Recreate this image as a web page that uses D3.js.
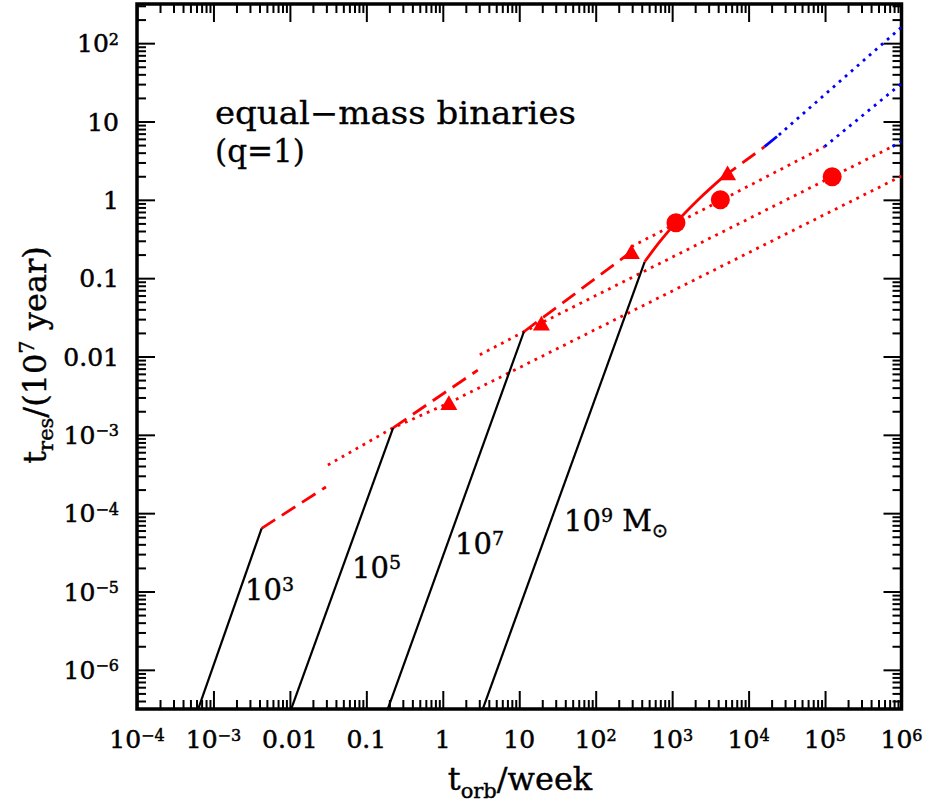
<!DOCTYPE html>
<html>
<head>
<meta charset="utf-8">
<script src="https://cdn.jsdelivr.net/npm/d3@7/dist/d3.min.js"></script>
<style>
html,body{margin:0;padding:0;background:#fff;}
svg{display:block;}
</style>
</head>
<body>
<svg id="chart" width="927" height="804"></svg>
<script>
// ---------------- data ----------------
const xTickValues = [1e-4, 1e-3, 1e-2, 1e-1, 1, 10, 1e2, 1e3, 1e4, 1e5, 1e6];
const xTickLabels = [["10","−4"],["10","−3"],["0.01",""],["0.1",""],["1",""],["10",""],["10","2"],["10","3"],["10","4"],["10","5"],["10","6"]];
const yTickValues = [1e-6, 1e-5, 1e-4, 1e-3, 1e-2, 1e-1, 1, 10, 1e2];
const yTickLabels = [["10","−6"],["10","−5"],["10","−4"],["10","−3"],["0.01",""],["0.1",""],["1",""],["10",""],["10","2"]];
const minorSteps = [2, 3, 4, 5, 6, 7, 8, 9];

// GW-driven tracks (black), [t_orb (week), t_res (1e7 yr)]
const gwTrack1e3 = [[6.2e-4, 3.0e-7], [4.27e-3, 6.4e-5]];
const gwTrack1e5 = [[0.0102, 3.0e-7], [0.224, 1.23e-3]];
const gwTrack1e7 = [[0.187, 3.0e-7], [11.5, 0.0207]];
const gwTrack1e9 = [[3.27, 3.0e-7], [437, 0.162]];

// red dashed gas-driven continuations
const gasDash1e3 = [[4.27e-3, 6.4e-5], [0.0296, 2.16e-4]];
const gasDash1e5 = [[0.224, 1.23e-3], [2.87, 6.7e-3]];
const gasDash1e7 = [[11.5, 0.0207], [293, 0.218]];
const gasSolid1e9 = [[437, 0.162], [693, 0.294], [1122, 0.511], [2312, 1.055], [4625, 1.95]];
const gasDash1e9 = [[4625, 1.95], [16200, 4.77]];
const blueDash1e9 = [[16200, 4.77], [24900, 6.73]];
const blueDot1e9 = [[24900, 6.73], [1e6, 160]];

// red / blue dotted tracks
const dotLowRed = [[0.0314, 4.12e-4], [0.224, 1.23e-3], [1.2, 2.55e-3], [1e6, 2.01]];
const dotMidRed = [[3.05, 0.0105], [11.5, 0.0207], [1.24e5, 1.97], [7.65e5, 4.8]];
const dotMidBlue = [[7.65e5, 4.8], [1e6, 5.6]];
const dotHighRed = [[293, 0.252], [9.84e4, 4.77]];
const dotHighBlue = [[9.84e4, 4.77], [1e6, 30.5]];

// markers
const triangleMarks = [[1.2, 2.4e-3], [19.5, 0.0248], [293, 0.203], [5310, 2.06]];
const circleMarks = [[1122, 0.511], [4270, 1.0], [1.24e5, 1.97]];

// mass labels
const massExponents = ["3", "5", "7", "9"];

// ---------------- layout ----------------
const L = 137, R = 901.5, T = 4, B = 709;
const svg = d3.select("#chart");
const x = d3.scaleLog().domain([1e-4, 1e6]).range([L, R]);
const y = d3.scaleLog().domain([Math.pow(10, -6.5), Math.pow(10, 2.5)]).range([B, T]);

function minorTicks(domain) {
  const lo = Math.floor(Math.log10(domain[0])), hi = Math.ceil(Math.log10(domain[1]));
  const out = [];
  for (let e = lo; e <= hi; e++) for (const m of minorSteps) {
    const v = m * Math.pow(10, e);
    if (v > domain[0] && v < domain[1]) out.push(v);
  }
  return out;
}
const xMinor = minorTicks(x.domain());
const yMinor = minorTicks(y.domain());

svg.append("defs").append("clipPath").attr("id", "plotclip")
  .append("rect").attr("x", L).attr("y", T).attr("width", R - L).attr("height", B - T);

// ---------------- axes (ticks inward on all four sides) ----------------
function drawAxis(axisFn, scale, vals, size, transform) {
  const g = svg.append("g").attr("transform", transform)
    .call(axisFn(scale).tickValues(vals).tickSizeInner(-size).tickSizeOuter(0).tickFormat(() => ""));
  g.select(".domain").remove();
  g.selectAll(".tick line").attr("stroke", "#000").attr("stroke-width", 2);
  g.selectAll(".tick text").remove();
  return g;
}
drawAxis(d3.axisBottom, x, xTickValues, 18, `translate(0,${B})`);
drawAxis(d3.axisBottom, x, xMinor, 9, `translate(0,${B})`);
drawAxis(d3.axisTop, x, xTickValues, 18, `translate(0,${T})`);
drawAxis(d3.axisTop, x, xMinor, 9, `translate(0,${T})`);
drawAxis(d3.axisLeft, y, yTickValues, 18, `translate(${L},0)`);
drawAxis(d3.axisLeft, y, yMinor, 9, `translate(${L},0)`);
drawAxis(d3.axisRight, y, yTickValues, 18, `translate(${R},0)`);
drawAxis(d3.axisRight, y, yMinor, 9, `translate(${R},0)`);

svg.append("rect").attr("x", L).attr("y", T).attr("width", R - L).attr("height", B - T)
  .attr("fill", "none").attr("stroke", "#000").attr("stroke-width", 3.5);

// tick labels
const tickFont = "DejaVu Serif", tickSize = 25;
function supLabel(sel, lab, fs) {
  sel.append("tspan").text(lab[0]);
  if (lab[1]) sel.append("tspan").attr("font-size", fs * 0.64).attr("dy", -fs * 0.3).text(lab[1]);
}
function heavy(sel, w) { return sel.attr("stroke", "#000").attr("stroke-width", w).attr("fill", "#000"); }
xTickValues.forEach((v, i) => {
  const t = svg.append("text").attr("x", x(v)).attr("y", 748)
    .attr("text-anchor", "middle").attr("font-family", tickFont).attr("font-size", tickSize);
  heavy(t, 0.5);
  supLabel(t, xTickLabels[i], tickSize);
});
yTickValues.forEach((v, i) => {
  const t = svg.append("text").attr("x", 119).attr("y", y(v) + 9)
    .attr("text-anchor", "end").attr("font-family", tickFont).attr("font-size", tickSize);
  heavy(t, 0.5);
  supLabel(t, yTickLabels[i], tickSize);
});

// axis titles
const titleFont = "DejaVu Serif";
const xt = svg.append("text").attr("x", 520).attr("y", 790).attr("text-anchor", "middle")
  .attr("font-family", titleFont).attr("font-size", 32);
heavy(xt, 0.4);
xt.append("tspan").text("t");
xt.append("tspan").attr("font-size", 21).attr("dy", 8).text("orb");
xt.append("tspan").attr("dy", -8).text("/week");

const yt = svg.append("text").attr("transform", "translate(46,355) rotate(-90)").attr("text-anchor", "middle")
  .attr("font-family", titleFont).attr("font-size", 32);
heavy(yt, 0.4);
yt.append("tspan").text("t");
yt.append("tspan").attr("font-size", 21).attr("dy", 7).text("res");
yt.append("tspan").attr("dy", -7).text("/(10");
yt.append("tspan").attr("font-size", 21).attr("dy", -12).text("7");
yt.append("tspan").attr("dy", 12).text(" year)");

// ---------------- data lines ----------------
const plot = svg.append("g").attr("clip-path", "url(#plotclip)");
const line = d3.line().x(d => x(d[0])).y(d => y(d[1]));
const smooth = d3.line().x(d => x(d[0])).y(d => y(d[1])).curve(d3.curveMonotoneX);
function draw(data, color, width, dash, gen) {
  const p = plot.append("path").datum(data).attr("d", gen || line)
    .attr("fill", "none").attr("stroke", color).attr("stroke-width", width)
    .attr("stroke-linejoin", "round");
  if (dash) p.attr("stroke-dasharray", dash);
  return p;
}
const DOT = "2.8,5.2", DASH = "16,8";
[dotLowRed, dotMidRed, dotHighRed].forEach(d => draw(d, "#ff0000", 2.8, DOT));
[dotMidBlue, dotHighBlue, blueDot1e9].forEach(d => draw(d, "#0000ff", 2.8, DOT));
[gasDash1e3, gasDash1e5, gasDash1e7, gasDash1e9].forEach(d => draw(d, "#ff0000", 2.8, DASH));
draw(blueDash1e9, "#0000ff", 2.8, DASH);
draw(gasSolid1e9, "#ff0000", 2.8, null, smooth);
[gwTrack1e3, gwTrack1e5, gwTrack1e7, gwTrack1e9].forEach(d => draw(d, "#000", 2.2, null));

plot.selectAll("path.tri").data(triangleMarks).join("path").attr("class", "tri")
  .attr("d", d3.symbol(d3.symbolTriangle, 125))
  .attr("transform", d => `translate(${x(d[0])},${y(d[1])})`).attr("fill", "#ff0000");
plot.selectAll("circle.dot").data(circleMarks).join("circle").attr("class", "dot")
  .attr("cx", d => x(d[0])).attr("cy", d => y(d[1])).attr("r", 9.5).attr("fill", "#ff0000");

// ---------------- annotations ----------------
const annFont = "DejaVu Serif";
heavy(svg.append("text").attr("x", 215).attr("y", 124).attr("font-family", annFont).attr("font-size", 31)
  .attr("textLength", 361).attr("lengthAdjust", "spacingAndGlyphs")
  .text("equal−mass binaries"), 0.3);
heavy(svg.append("text").attr("x", 215).attr("y", 162).attr("font-family", annFont).attr("font-size", 31)
  .attr("textLength", 90).attr("lengthAdjust", "spacingAndGlyphs")
  .text("(q=1)"), 0.3);

const massPos = [[245, 600], [352, 578], [455, 554], [564, 531]];
massExponents.forEach((e, i) => {
  const t = svg.append("text").attr("x", massPos[i][0]).attr("y", massPos[i][1])
    .attr("font-family", "DejaVu Serif").attr("font-size", 29);
  heavy(t, 0.4);
  t.append("tspan").text("10");
  t.append("tspan").attr("font-size", 19).attr("dy", -9).text(e);
  if (i === 3) {
    t.append("tspan").attr("dy", 9).text(" M");
    t.append("tspan").attr("font-family", "DejaVu Sans").attr("font-size", 19).attr("dy", 6).text("⊙");
  }
});
</script>
</body>
</html>
